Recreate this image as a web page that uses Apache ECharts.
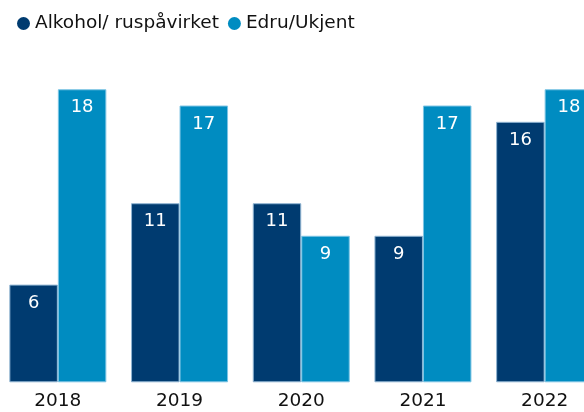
<!DOCTYPE html>
<html>
<head>
<meta charset="utf-8">
<script src="https://cdn.jsdelivr.net/npm/echarts@6/dist/echarts.min.js"></script>
<style>html,body{margin:0;padding:0;background:#fff}#c{width:584px;height:412px}</style>
</head>
<body>
<div id="c"></div>
<script>
const categories = ['2018', '2019', '2020', '2021', '2022'];
const alkohol = [6, 11, 11, 9, 16];
const edru = [18, 17, 9, 17, 18];
const seriesNames = ['Alkohol/ ruspåvirket', 'Edru/Ukjent'];

const FONT = '"DejaVu Sans", sans-serif';
const chart = echarts.init(document.getElementById('c'), null, {renderer: 'canvas'});
const labelCfg = {
  show: true, position: 'insideTop', distance: 9.5,
  color: '#ffffff', fontFamily: FONT, fontSize: 18
};
chart.setOption({
  animation: false,
  backgroundColor: '#ffffff',
  legend: {
    left: 12, top: 9,
    icon: 'circle', itemWidth: 13, itemHeight: 13, itemGap: 9,
    itemStyle: {borderWidth: 0},
    textStyle: {fontFamily: FONT, fontSize: 18.5, color: '#111111'},
    data: seriesNames
  },
  grid: {left: -3, width: 608.5, top: 56.7, height: 325.6, containLabel: false, outerBoundsMode: 'none'},
  xAxis: {
    type: 'category', data: categories,
    axisLine: {show: false}, axisTick: {show: false},
    axisLabel: {fontFamily: FONT, fontSize: 18.5, color: '#111111', margin: 9}
  },
  yAxis: {
    type: 'value', min: 0, max: 20, show: false,
    splitLine: {show: false}
  },
  series: [
    {
      name: seriesNames[0], type: 'bar', data: alkohol,
      barGap: '0%', barCategoryGap: '20.3%',
      itemStyle: {color: '#003b70', borderColor: '#8fb4d2', borderWidth: 1},
      label: labelCfg
    },
    {
      name: seriesNames[1], type: 'bar', data: edru,
      itemStyle: {color: '#008cc1', borderColor: '#7cc4e4', borderWidth: 1},
      label: labelCfg
    }
  ]
});
</script>
</body>
</html>
